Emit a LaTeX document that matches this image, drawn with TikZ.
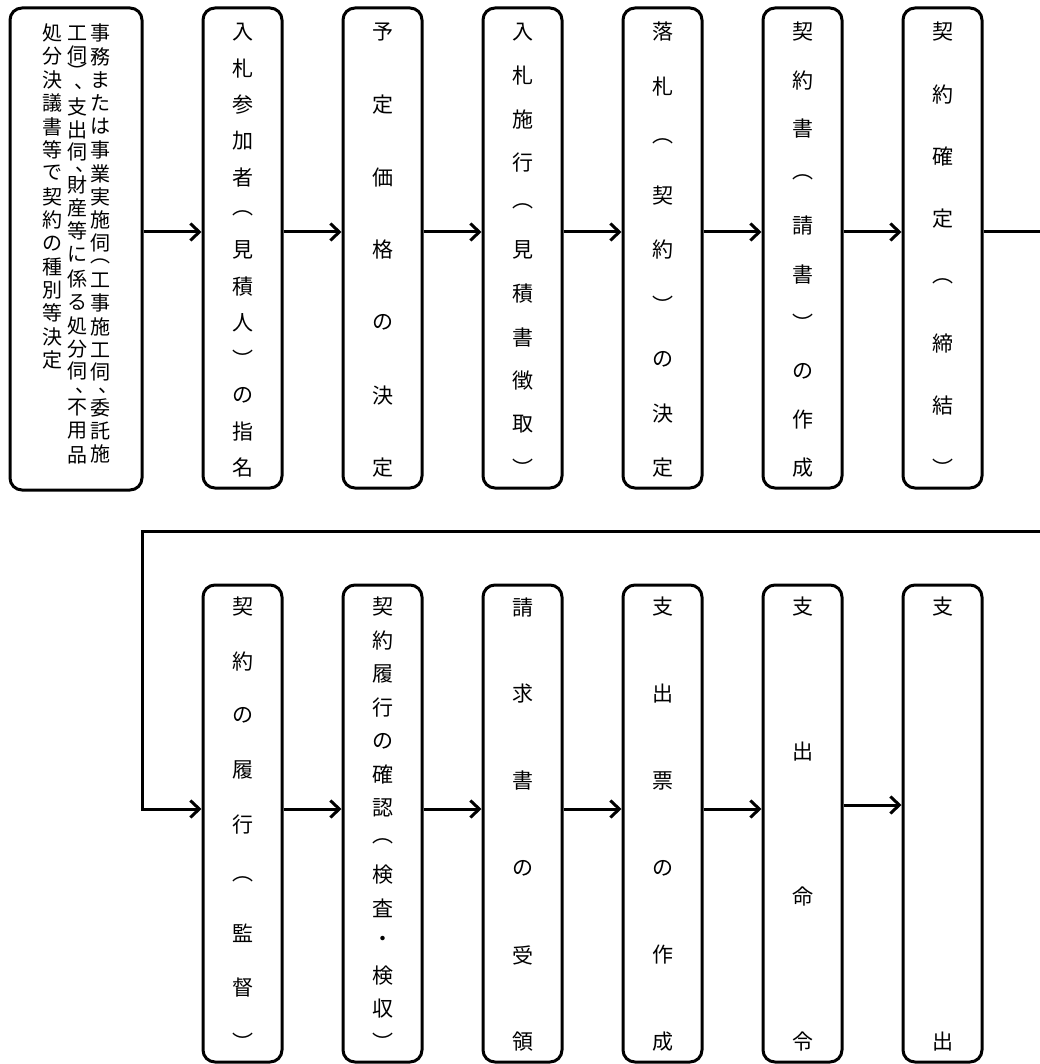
\documentclass[tikz,border=0pt]{standalone}
\usepackage{fontspec}
\newfontfamily\jp{Noto Sans CJK JP}
\usetikzlibrary{arrows.meta}
\tikzset{
  flowbox/.style={draw, line width=3pt, rounded corners=12pt, inner sep=0pt, fill=white},
  ch/.style={font=\jp\fontsize{21}{21}\selectfont, inner sep=0pt, anchor=center},
  chs/.style={font=\jp\fontsize{20}{20}\selectfont, inner sep=0pt, anchor=center},
  arr/.style={line width=3pt, -{Straight Barb[length=9pt,width=17pt]}},
  conn/.style={line width=3pt}
}
\newcommand{\vcol}[6]{%
  \foreach \vch [count=\i] in {#6} {%
    \pgfmathsetmacro{\yy}{#3+(\i-1)*(#4-#3)/(#5-1)}%
    \node[ch] (#1-\i) at (#2,\yy) {\vch};%
  }}
\begin{document}
\begin{tikzpicture}[x=1pt,y=-1pt]
\useasboundingbox (0,0) rectangle (1039,1064);
\fill[white] (0,0) rectangle (1039,1064);

% boxes
\node[flowbox, minimum width=132pt, minimum height=482pt] (b1) at (76,249) {};
\foreach \k/\x in {2/242.5,3/382.5,4/522.5,5/662.5,6/802.5,7/942.5}
  \node[flowbox, minimum width=79pt, minimum height=480pt] (b\k) at (\x,248) {};
\foreach \k/\x in {8/242.5,9/382.5,10/522.5,11/662.5,12/802.5,13/942.5}
  \node[flowbox, minimum width=79pt, minimum height=477pt] (b\k) at (\x,823.5) {};

% text of box 1 (three vertical columns, right to left)
\foreach \vch/\xx/\yy [count=\i] in {事/100/33,務/100/56.4,ま/100/79.8,た/100/103.2,は/100/126.6,事/100/150,業/100/173.4,実/100/196.8,施/100/220.2,伺/100/243,︵/100/261,工/100/280,事/100/303,施/100/327,工/100/350,伺/100/372,、/108/391,委/100/408,託/100/431,施/100/454}
  \node[chs] (ta-\i) at (\xx,\yy) {\vch};
\foreach \vch/\xx/\yy [count=\i] in {工/77/33,伺/77/55,︶/77/71,、/84/87,支/77/107,出/77/130,伺/77/152,、/85/170,財/77/185,産/77/208,等/77/231,に/77/254,係/77/279,る/77/302,処/77/326,分/77/349,伺/77/371,、/85/391,不/77/408,用/77/431,品/77/455}
  \node[chs] (tb-\i) at (\xx,\yy) {\vch};
\foreach \vch [count=\i] in {処,分,決,議,書,等,で,契,約,の,種,別,等,決,定} {%
  \pgfmathsetmacro{\yy}{33+(\i-1)*327/14}%
  \node[chs] (tc-\i) at (52,\yy) {\vch};}

% text of the other boxes
\vcol{t2}{242.5}{32}{468}{13}{入,札,参,加,者,︵,見,積,人,︶,の,指,名}
\vcol{t3}{382.5}{32}{468}{7}{予,定,価,格,の,決,定}
\vcol{t4}{522.5}{32}{468}{11}{入,札,施,行,︵,見,積,書,徴,取,︶}
\vcol{t5}{662.5}{32}{468}{9}{落,札,︵,契,約,︶,の,決,定}
\vcol{t6}{802.5}{32}{468}{10}{契,約,書,︵,請,書,︶,の,作,成}
\vcol{t7}{942.5}{32}{468}{8}{契,約,確,定,︵,締,結,︶}
\vcol{t8}{242.5}{607}{1042}{9}{契,約,の,履,行,︵,監,督,︶}
\vcol{t9}{382.5}{607}{1042}{14}{契,約,履,行,の,確,認,︵,検,査,・,検,収,︶}
\vcol{t10}{522.5}{607}{1042}{6}{請,求,書,の,受,領}
\vcol{t11}{662.5}{607}{1042}{6}{支,出,票,の,作,成}
\vcol{t12}{802.5}{607}{1042}{4}{支,出,命,令}
\vcol{t13}{942.5}{607}{1042}{2}{支,出}

% connector levels
\coordinate (ya) at (0,232);
\coordinate (yl) at (0,531);
\coordinate (yb) at (0,809);
\coordinate (yc) at (0,805);
\coordinate (loopR) at (1048,0);
\coordinate (loopL) at (142,0);

% top row arrows
\foreach \a/\b in {1/2,2/3,3/4,4/5,5/6,6/7}
  \draw[arr] (b\a.east |- ya) -- (b\b.west |- ya);
% return line
\draw[arr] (b7.east |- ya) -| (loopR |- yl) -| (loopL |- yb) -- (b8.west |- yb);
% bottom row arrows
\foreach \a/\b in {8/9,9/10,10/11,11/12}
  \draw[arr] (b\a.east |- yb) -- (b\b.west |- yb);
\draw[arr] (b12.east |- yc) -- (b13.west |- yc);
\end{tikzpicture}
\end{document}
